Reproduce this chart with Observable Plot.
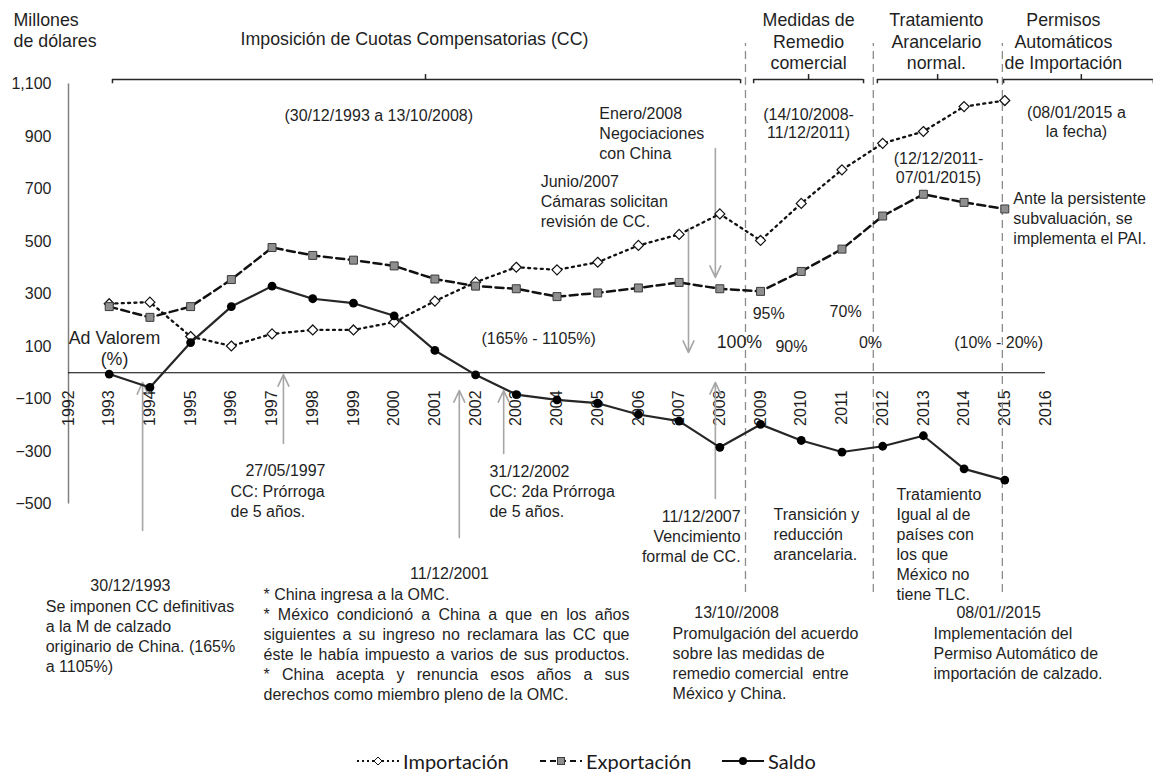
<!DOCTYPE html>
<html>
<head>
<meta charset="utf-8">
<script src="https://cdn.jsdelivr.net/npm/d3@7"></script>
<script src="https://cdn.jsdelivr.net/npm/@observablehq/plot@0.6"></script>
<style>
  html, body { margin: 0; padding: 0; background: white; }
  #legend { height: 26px; display: flex; align-items: center; font-family: Lato, "Open Sans", sans-serif; font-size: 20px; color: #1a1a1a; }
  #legend .item { display: flex; align-items: center; position: absolute; }
  #legend svg { margin-right: 4px; }
</style>
</head>
<body>
<div id="chart"></div>
<div id="legend"></div>
<script>
// ---- data (millones de dólares) ----
const years = [1993,1994,1995,1996,1997,1998,1999,2000,2001,2002,2003,2004,2005,2006,2007,2008,2009,2010,2011,2012,2013,2014,2015];
const importacion = [263,269,138,102,148,163,163,193,273,345,402,392,421,485,527,605,504,645,773,874,919,1014,1037];
const exportacion = [252,211,252,355,477,447,429,407,357,330,320,290,304,323,344,320,310,386,471,597,680,649,624];
const saldo = [-5,-56,115,252,330,282,265,217,85,-8,-83,-103,-116,-159,-184,-284,-197,-258,-302,-280,-240,-366,-409];

const xTicks = d3.range(1992, 2017);
const yTicks = [-500,-300,-100,100,300,500,700,900,1100];

// policy period boundaries (fractional years)
const periodBreaks = [2008.63, 2011.77, 2014.94];
// braces above each period: start, end, middle
const braceStart = [1993.08, 2008.83, 2011.87, 2014.97];
const braceEnd   = [2008.51, 2011.53, 2014.82, 2018.65];
const braceMid   = [2000.77, 2010.18, 2013.35, 2016.88];

// arrows marking events: x, from value, to value
const arrowX    = [1993.82, 1997.28, 2001.6, 2002.69, 2007.23, 2007.89, 2007.89];
const arrowFrom = [-601, -269, -628, -308, 550, 854, -479];
const arrowTo   = [-37, -7, -68, -68, 77, 363, -37];

// texts
const periodTitles = ["Imposición de Cuotas Compensatorias (CC)", "Medidas de\nRemedio\ncomercial", "Tratamiento\nArancelario\nnormal.", "Permisos\nAutomáticos\nde Importación"];
const periodTitleX = [2000.5, 2010.18, 2013.32, 2016.44];
const periodTitleY = [1273, 1265, 1264, 1264];

const periodDates = ["(30/12/1993 a 13/10/2008)", "(14/10/2008-\n11/12/2011)", "(12/12/2011-\n07/01/2015)", "(08/01/2015 a\nla fecha)"];
const periodDateX = [1999.62, 2010.18, 2013.37, 2016.76];
const periodDateY = [980, 951, 782, 957];

const tariffLabels = ["(165% - 1105%)", "95%", "90%", "70%", "0%", "(10% - 20%)"];
const tariffX = [2003.55, 2009.2, 2009.76, 2011.09, 2011.7, 2014.85];
const tariffY = [130, 226, 100, 233, 115, 115];
const tariff2008 = "100%";

const leftNotes = [
  "Enero/2008\nNegociaciones\ncon China",
  "Junio/2007\nCámaras solicitan\nrevisión de CC.",
  "Ante la persistente\nsubvaluación, se\nimplementa el PAI.",
  "CC: Prórroga\nde 5 años.",
  "31/12/2002\nCC: 2da Prórroga\nde 5 años.",
  "Se imponen CC definitivas\na la M de calzado\noriginario de China. (165%\na 1105%)",
  "Transición y\nreducción\narancelaria.",
  "Tratamiento\nIgual al de\npaíses con\nlos que\nMéxico no\ntiene TLC.",
  "Promulgación del acuerdo\nsobre las medidas de\nremedio comercial  entre\nMéxico y China.",
  "Implementación del\nPermiso Automático de\nimportación de calzado."
];
const leftNoteX = [2005.04, 2003.6, 2015.21, 1995.98, 2002.34, 1991.44, 2009.32, 2012.34, 2006.84, 2013.25];
const leftNoteY = [916, 656, 591, -487, -449, -1001, -612, -650, -1104, -1066];

const wtoNote = "* China ingresa a la OMC.\n* México condicionó a China a que en los años\nsiguientes a su ingreso no reclamara las CC que\néste le había impuesto a varios de sus productos.\n* China acepta y renuncia esos años a sus\nderechos como miembro pleno de la OMC.";
const wtoNoteX = 1996.79, wtoNoteY = -1031;

const eventDates = ["27/05/1997", "30/12/1993", "11/12/2001", "13/10//2008", "08/01//2015"];
const eventDateX = [1997.33, 1993.52, 2001.36, 2008.41, 2014.85];
const eventDateY = [-372, -810, -765, -913, -913];

const rightNote = "11/12/2007\nVencimiento\nformal de CC.";
const rightNoteX = 2008.51, rightNoteY = -620;

const yTitle = "Millones\nde dólares";
const adValorem = "Ad Valorem\n(%)";

const idx = (arr) => arr.map((_, i) => i);
const FS = 16;
const FT = 17.8;
const textFill = "#1f1f1f";

const chart = Plot.plot({
  width: 1153,
  height: 748,
  marginLeft: 68,
  marginRight: 108,
  marginTop: 83.5,
  marginBottom: 244.5,
  x: {domain: [1992, 2016], axis: null},
  y: {domain: [-500, 1100]},
  style: {fontFamily: "'Liberation Sans', Arial, sans-serif", fontSize: "16px", color: textFill, background: "white", overflow: "visible"},
  marks: [
    Plot.axisY({ticks: yTicks, tickFormat: d3.format(","), tickSize: 0, tickPadding: 17, label: null, fontSize: FS}),
    Plot.ruleX([1992], {y1: -500, y2: 1100, stroke: "#808080", strokeWidth: 1.5}),
    Plot.ruleY([0], {x1: 1992, x2: 2016, stroke: "#000", strokeWidth: 1}),
    Plot.text(xTicks, {x: d => d, y: -67, text: d => String(d), rotate: -90, textAnchor: "end", fontSize: FS, fill: textFill}),

    // period boundaries
    Plot.ruleX(periodBreaks, {x: d => d, y1: -837, y2: 1254, stroke: "#8c8c8c", strokeWidth: 1.3, strokeDasharray: "8,5"}),

    // braces
    Plot.ruleY(idx(braceStart), {x1: i => braceStart[i], x2: i => braceEnd[i], y: 1117, stroke: "#262626", strokeWidth: 1.5}),
    Plot.ruleX(idx(braceStart), {x: i => braceStart[i], y1: 1117, y2: 1101, stroke: "#262626", strokeWidth: 1.5}),
    Plot.ruleX(idx(braceEnd), {x: i => braceEnd[i], y1: 1117, y2: 1101, stroke: "#262626", strokeWidth: 1.5}),
    Plot.ruleX(idx(braceMid), {x: i => braceMid[i], y1: 1117, y2: 1136, stroke: "#262626", strokeWidth: 1.5}),

    // event arrows
    Plot.arrow(idx(arrowX), {x1: i => arrowX[i], x2: i => arrowX[i], y1: i => arrowFrom[i], y2: i => arrowTo[i], stroke: "#a6a6a6", strokeWidth: 1.6, headLength: 12, headAngle: 50}),

    // series lines
    Plot.line(years, {x: years, y: importacion, stroke: "#111", strokeWidth: 2.3, strokeDasharray: "2,4.3"}),
    Plot.line(years, {x: years, y: exportacion, stroke: "#111", strokeWidth: 2.5, strokeDasharray: "8,4.5"}),
    Plot.line(years, {x: years, y: saldo, stroke: "#262626", strokeWidth: 2.2}),
    Plot.dot(years, {x: years, y: importacion, symbol: "diamond2", r: 4.5, fill: "white", stroke: "#111", strokeWidth: 1.2}),
    Plot.dot(years, {x: years, y: exportacion, symbol: "square", r: 4.5, fill: "#8f8f8f", stroke: "#3a3a3a", strokeWidth: 1}),
    Plot.dot(years, {x: years, y: saldo, symbol: "circle", r: 4.4, fill: "#000", stroke: "none"}),

    // texts
    Plot.text([yTitle], {x: 1990.65, y: 1306, text: d => d, textAnchor: "start", lineHeight: 1.18, fontSize: FT, fill: textFill}),
    Plot.text(idx(periodTitles), {x: i => periodTitleX[i], y: i => periodTitleY[i], text: i => periodTitles[i], lineHeight: 1.21, fontSize: FT, fill: textFill}),
    Plot.text(idx(periodDates), {x: i => periodDateX[i], y: i => periodDateY[i], text: i => periodDates[i], lineHeight: 1.15, fontSize: FS, fill: textFill}),
    Plot.text(idx(tariffLabels), {x: i => tariffX[i], y: i => tariffY[i], text: i => tariffLabels[i], fontSize: FS, fill: textFill}),
    Plot.text([tariff2008], {x: 2008.48, y: 115, text: d => d, fontSize: FT, fill: textFill}),
    Plot.text([adValorem], {x: 1993.13, y: 94, text: d => d, lineHeight: 1.18, fontSize: FT, fill: textFill}),
    Plot.text(idx(leftNotes), {x: i => leftNoteX[i], y: i => leftNoteY[i], text: i => leftNotes[i], textAnchor: "start", lineHeight: 1.25, fontSize: FS, fill: textFill}),
    Plot.text([wtoNote], {x: wtoNoteX, y: wtoNoteY, text: d => d, textAnchor: "start", lineHeight: 1.25, fontSize: FS, fill: textFill}),
    Plot.text(idx(eventDates), {x: i => eventDateX[i], y: i => eventDateY[i], text: i => eventDates[i], fontSize: FS, fill: textFill}),
    Plot.text([rightNote], {x: rightNoteX, y: rightNoteY, text: d => d, textAnchor: "end", lineHeight: 1.25, fontSize: FS, fill: textFill})
  ]
});
document.getElementById("chart").append(chart);

// justify the WTO paragraph (lines 2-5)
const target = 366;
chart.querySelectorAll("tspan").forEach(t => {
  const s = t.textContent;
  if (["* México condicionó", "siguientes a su", "éste le había", "* China acepta"].some(p => s.startsWith(p))) {
    const len = t.getComputedTextLength();
    const spaces = (s.match(/ /g) || []).length;
    if (spaces && len < target) t.setAttribute("word-spacing", ((target - len) / spaces).toFixed(2));
  }
});

// legend
const legendItems = [
  {label: "Importación", dash: "2,3", symbol: "diamond", x: 357},
  {label: "Exportación", dash: "6,4", symbol: "square", x: 540},
  {label: "Saldo", dash: null, symbol: "circle", x: 722}
];
const legend = document.getElementById("legend");
legend.style.position = "relative";
for (const it of legendItems) {
  const div = document.createElement("div");
  div.className = "item";
  div.style.left = it.x + "px";
  div.style.top = "0px";
  div.style.height = "26px";
  let sym;
  if (it.symbol === "diamond") sym = `<path d="M21,9 L25,13 L21,17 L17,13 Z" fill="white" stroke="#111" stroke-width="1"/>`;
  else if (it.symbol === "square") sym = `<rect x="17.5" y="9.5" width="7" height="7" fill="#8f8f8f" stroke="#3a3a3a" stroke-width="1"/>`;
  else sym = `<circle cx="21" cy="13" r="4" fill="#000"/>`;
  div.innerHTML = `<svg width="42" height="26"><line x1="0" x2="42" y1="13" y2="13" stroke="#111" stroke-width="2" ${it.dash ? `stroke-dasharray="${it.dash}"` : ""}/>${sym}</svg><span>${it.label}</span>`;
  legend.append(div);
}
</script>
</body>
</html>
